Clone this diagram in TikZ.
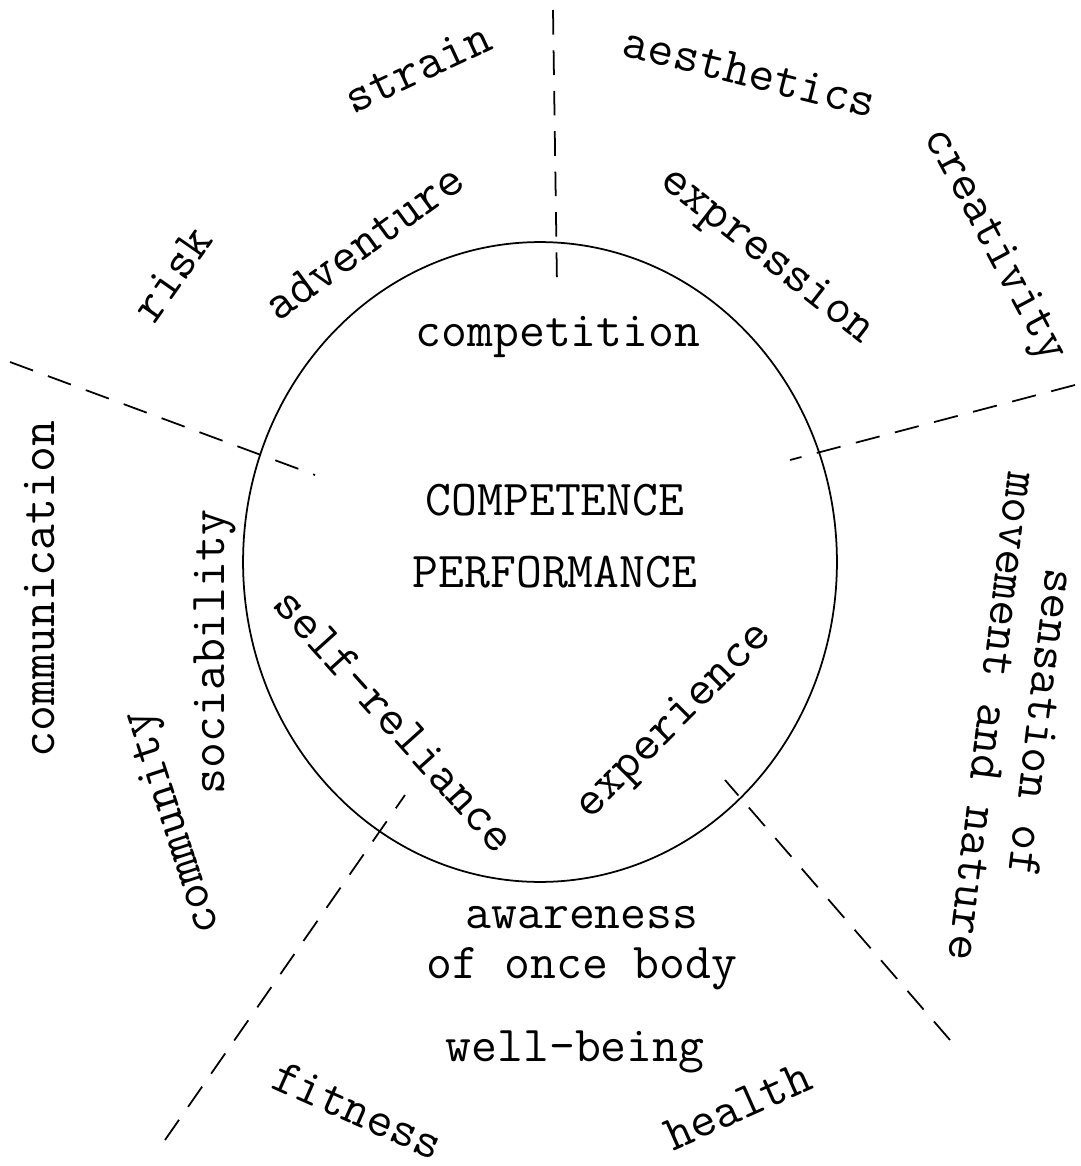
\documentclass[tikz,border=0pt]{standalone}
\usepackage{fontspec}
\tikzset{
  word/.style={font=\ttfamily\fontsize{28.6}{28.3}\selectfont, inner sep=0pt, align=center},
  divider/.style={line width=1pt, dash pattern=on 14pt off 9pt},
}
\begin{document}
\begin{tikzpicture}[x=0.02cm, y=-0.02cm]
	\useasboundingbox (0,0) rectangle (1081,1166);
	\draw[line width=1pt] (540,562) ellipse [x radius=5.94cm, y radius=6.4cm];
	\coordinate (n1) at (553,10);
	\coordinate (n2) at (557,285);
	\coordinate (w1) at (10,362);
	\coordinate (w2) at (315,475);
	\coordinate (e1) at (1075,385);
	\coordinate (e2) at (790,460);
	\coordinate (sw1) at (165,1140);
	\coordinate (sw2) at (405,795);
	\coordinate (se1) at (950,1040);
	\coordinate (se2) at (725,780);
	\draw[divider] (n1) -- (n2);
	\draw[divider] (w1) -- (w2);
	\draw[divider] (e1) -- (e2);
	\draw[divider] (sw1) -- (sw2);
	\draw[divider] (se1) -- (se2);
	\node[word, rotate=25] (strain) at (418,68) {strain};
	\node[word, rotate=-14] (aesthetics) at (750,72) {aesthetics};
	\node[word, rotate=-62] (creativity) at (993,246) {creativity};
	\node[word, rotate=36] (adventure) at (364,242) {adventure};
	\node[word, rotate=-38] (expression) at (766,257) {expression};
	\node[word, rotate=55] (risk) at (172,274) {risk};
	\node[word] (competition) at (558,337) {competition};
	\node[word] (competence) at (555,500) {COMPETENCE};
	\node[word] (performance) at (555,572) {PERFORMANCE};
	\node[word, rotate=90] (communication) at (40,589) {communication};
	\node[word, rotate=90] (sociability) at (215,652) {sociability};
	\node[word, rotate=108] (community) at (175,822) {community};
	\node[word, rotate=-48] (selfreliance) at (395,720) {self-reliance};
	\node[word, rotate=45] (experience) at (675,722) {experience};
	\node[word, rotate=-97] (sensation) at (1018,720) {sensation of\\movement and nature};
	\node[word] (awareness) at (582,948) {awareness\\of once body};
	\node[word] (wellbeing) at (575,1052) {well-being};
	\node[word, rotate=-24] (fitness) at (358,1110) {fitness};
	\node[word, rotate=24] (health) at (738,1106) {health};
\end{tikzpicture}
\end{document}
